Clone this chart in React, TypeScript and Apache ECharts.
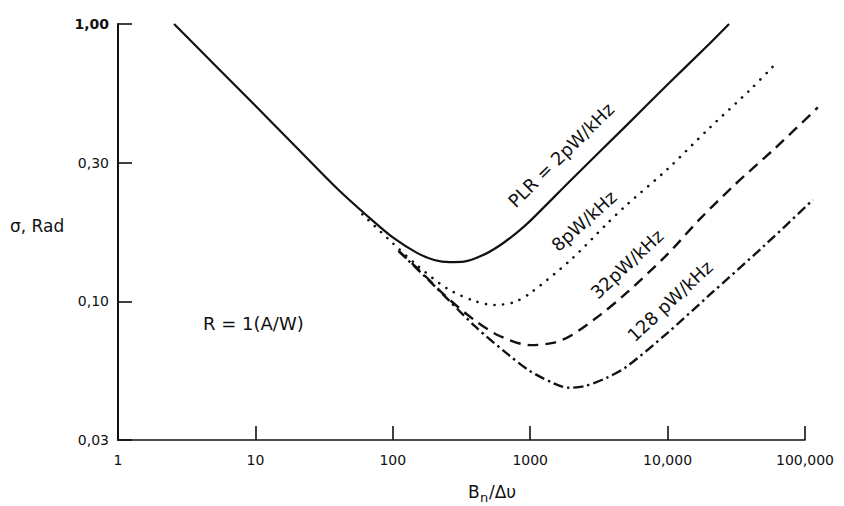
import React, { useEffect, useRef } from 'react';
import * as echarts from 'echarts';

// Tick labels
const xTickLabels = ['1', '10', '100', '1000', '10,000', '100,000'];
const yTickLabels = ['0,03', '0,10', '0,30', '1,00'];

// PLR = 2 pW/kHz (solid)
const solidX = [2.56, 5, 10, 20, 40, 70, 100, 150, 200, 260, 330, 450, 600, 800, 1000, 2000, 5000, 10000, 20000, 28000];
const solidY = [1.0, 0.716, 0.507, 0.358, 0.253, 0.197, 0.17, 0.1495, 0.141, 0.1385, 0.139, 0.1465, 0.159, 0.177, 0.195, 0.275, 0.43, 0.605, 0.845, 1.0];

// 8 pW/kHz (dotted)
const dotX = [60, 100, 150, 250, 400, 550, 750, 1000, 2000, 3600, 5000, 10000, 20000, 40000, 58000];
const dotY = [0.206, 0.162, 0.135, 0.111, 0.1, 0.097, 0.099, 0.107, 0.142, 0.19, 0.222, 0.3, 0.42, 0.58, 0.7];

// 32 pW/kHz (dashed)
const dashX = [110, 150, 250, 400, 600, 1000, 1500, 2000, 3200, 5000, 10000, 17000, 30000, 60000, 124000];
const dashY = [0.152, 0.132, 0.103, 0.085, 0.075, 0.0695, 0.071, 0.0755, 0.089, 0.107, 0.148, 0.197, 0.26, 0.355, 0.5];

// 128 pW/kHz (dash-dot)
const ddX = [110, 200, 400, 700, 1000, 1500, 1900, 2500, 3600, 5000, 10000, 20000, 50000, 114000];
const ddY = [0.152, 0.114, 0.081, 0.064, 0.056, 0.0505, 0.0488, 0.0495, 0.053, 0.058, 0.077, 0.105, 0.158, 0.232];

const FONT = 'DejaVu Sans';
const INK = '#111';

const GRID_LEFT = 118;
const GRID_RIGHT = 39;
const PLOT_RIGHT_EXT = 20; // curves run a little past the 100,000 tick
const CHART_W = 844;

function makeSeries(name: string, xs: number[], ys: number[], lineStyle: any, z: number) {
  return {
    type: 'line',
    name,
    xAxisIndex: 1,
    yAxisIndex: 1,
    data: xs.map((x, i) => [x, ys[i]]),
    showSymbol: false,
    symbol: 'none',
    smooth: 0.3,
    clip: false,
    silent: true,
    z,
    lineStyle: { color: INK, ...lineStyle },
  };
}

function curveLabel(text: string, x: number, y: number, deg: number) {
  return {
    type: 'text',
    x,
    y,
    rotation: (deg * Math.PI) / 180,
    style: {
      text,
      font: `18px "${FONT}"`,
      fill: INK,
      align: 'center',
      verticalAlign: 'middle',
    },
  };
}

export default function App() {
  const ref = useRef<HTMLDivElement>(null);
  useEffect(() => {
    const chart = echarts.init(ref.current!, null, { renderer: 'svg' });
    const w0 = CHART_W - GRID_LEFT - GRID_RIGHT;
    const w1 = CHART_W - GRID_LEFT - PLOT_RIGHT_EXT;
    const xMaxExt = Math.pow(10, (5 * w1) / w0);
    const yAxisBase = {
      type: 'log',
      logBase: Math.sqrt(10),
      min: Math.pow(10, -1.5),
      max: 1,
    };
    const option: any = {
      animation: false,
      backgroundColor: '#fff',
      grid: [
        { left: GRID_LEFT, right: GRID_RIGHT, top: 24, bottom: 66, containLabel: false, outerBoundsMode: 'none' },
        { left: GRID_LEFT, right: PLOT_RIGHT_EXT, top: 24, bottom: 66, containLabel: false, outerBoundsMode: 'none' },
      ],
      xAxis: [
        {
          type: 'log',
          gridIndex: 0,
          logBase: 10,
          min: 1,
          max: 100000,
          axisLine: { show: true, lineStyle: { color: INK, width: 1.6 } },
          axisTick: { show: true, inside: true, length: 14, lineStyle: { color: INK, width: 1.6 } },
          minorTick: { show: false },
          splitLine: { show: false },
          axisLabel: {
            color: INK,
            fontFamily: FONT,
            fontSize: 14,
            margin: 13,
            formatter: (v: number) => xTickLabels[Math.round(Math.log10(v))] ?? '',
          },
        },
        {
          type: 'log',
          gridIndex: 1,
          logBase: 10,
          min: 1,
          max: xMaxExt,
          show: false,
        },
      ],
      yAxis: [
        {
          ...yAxisBase,
          gridIndex: 0,
          axisLine: { show: true, lineStyle: { color: INK, width: 2 } },
          axisTick: { show: true, inside: true, length: 14, lineStyle: { color: INK, width: 1.6 } },
          splitLine: { show: false },
          axisLabel: {
            color: INK,
            fontFamily: FONT,
            fontSize: 14,
            margin: 9,
            formatter: (v: number) => {
              const i = Math.round(Math.log10(v) * 2) + 3;
              return i === 3 ? '{b|' + yTickLabels[i] + '}' : yTickLabels[i] ?? '';
            },
            rich: { b: { fontFamily: FONT, fontSize: 14, fontWeight: 'bold', color: INK } },
          },
        },
        {
          ...yAxisBase,
          gridIndex: 1,
          show: false,
        },
      ],
      series: [
        makeSeries('128 pW/kHz', ddX, ddY, { width: 2.4, type: [10, 4, 2.5, 4], cap: 'butt' }, 2),
        makeSeries('32 pW/kHz', dashX, dashY, { width: 2.4, type: [11, 7], cap: 'butt' }, 2),
        makeSeries('8 pW/kHz', dotX, dotY, { width: 2.6, type: [0.1, 8.5], cap: 'round' }, 2),
        makeSeries('2 pW/kHz', solidX, solidY, { width: 2.2, type: 'solid' }, 3),
      ],
      graphic: [
        curveLabel('PLR = 2pW/kHz', 561, 155, 44.5),
        curveLabel('8pW/kHz', 584, 221, 42),
        curveLabel('32pW/kHz', 627, 264, 43),
        curveLabel('128 pW/kHz', 670, 301, 43),
        {
          type: 'text', x: 203, y: 323,
          style: { text: 'R = 1(A/W)', font: `18px "${FONT}"`, fill: INK, align: 'left', verticalAlign: 'middle' },
        },
        {
          type: 'text', x: 10, y: 226,
          style: { text: 'σ, Rad', font: `17px "${FONT}"`, fill: INK, align: 'left', verticalAlign: 'middle' },
        },
        {
          type: 'text', x: 468, y: 492,
          style: { text: 'B', font: `17px "${FONT}"`, fill: INK, align: 'left', verticalAlign: 'middle' },
        },
        {
          type: 'text', x: 480, y: 497,
          style: { text: 'n', font: `13px "${FONT}"`, fill: INK, align: 'left', verticalAlign: 'middle' },
        },
        {
          type: 'text', x: 489, y: 492,
          style: { text: '/Δυ', font: `17px "${FONT}"`, fill: INK, align: 'left', verticalAlign: 'middle' },
        },
      ],
    };
    chart.setOption(option);
    return () => chart.dispose();
  }, []);
  return (
    <div
      ref={ref}
      style={{ position: 'fixed', left: 0, top: 0, width: 844, height: 506, background: '#fff' }}
    />
  );
}
